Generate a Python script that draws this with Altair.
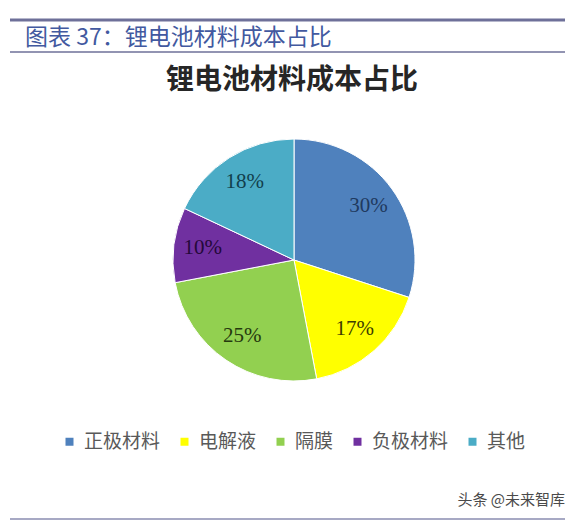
import altair as alt
import pandas as pd

categories = ["正极材料", "电解液", "隔膜", "负极材料", "其他"]
values = [30, 17, 25, 10, 18]
labels = ["30%", "17%", "25%", "10%", "18%"]
colors = ["#4F81BD", "#FFFF00", "#92D050", "#7030A0", "#4BACC6"]
label_colors = ["#1F3A5F", "#3D3D00", "#25380E", "#24083A", "#123F4C"]

df = pd.DataFrame({
    "cat": categories,
    "val": values,
    "lab": labels,
    "order": list(range(len(categories))),
    "lc": label_colors,
})

W, H = 559, 514
CX, CY = 286, 252

base = alt.Chart(df).encode(
    theta=alt.Theta("val:Q", stack=True),
    order=alt.Order("order:Q"),
)

arcs = base.mark_arc(radius=121, stroke="white", strokeWidth=1).encode(
    x=alt.value(CX), y=alt.value(CY),
    color=alt.Color(
        "cat:N",
        scale=alt.Scale(domain=categories, range=colors),
        sort=categories,
        legend=alt.Legend(
            title=None, orient="none", direction="horizontal",
            legendX=52, legendY=424, symbolType="square", symbolSize=64,
            symbolStrokeWidth=0, labelFontSize=19, labelFont="Noto Sans CJK SC",
            labelColor="#595959", columnPadding=14, labelOffset=5, padding=0,
        ),
    ),
)

pie_labels = base.mark_text(radius=92, font="Liberation Serif", fontSize=21).encode(
    x=alt.value(CX), y=alt.value(CY),
    text="lab:N",
    color=alt.Color("lc:N", scale=None),
)

hdr = pd.DataFrame({"t": ["图表 37：锂电池材料成本占比"]})
header = alt.Chart(hdr).mark_text(
    align="left", baseline="middle", fontSize=23, font="Noto Sans CJK SC", color="#4259A0"
).encode(x=alt.value(17), y=alt.value(30), text="t:N")

ttl = pd.DataFrame({"t": ["锂电池材料成本占比"]})
title = alt.Chart(ttl).mark_text(
    align="center", baseline="middle", fontSize=28, fontWeight="bold",
    font="Noto Sans CJK SC", color="#262626"
).encode(x=alt.value(284), y=alt.value(73), text="t:N")

wm = pd.DataFrame({"t": ["头条 @未来智库"]})
watermark = alt.Chart(wm).mark_text(
    align="right", baseline="middle", fontSize=15, font="Noto Sans CJK SC", color="#4A4A4A"
).encode(x=alt.value(557), y=alt.value(492), text="t:N")

line_top = alt.Chart(hdr).mark_rule(color="#6E7099", strokeWidth=3).encode(
    x=alt.value(2), x2=alt.value(557), y=alt.value(12))
line_mid = alt.Chart(hdr).mark_rule(color="#6E7099", strokeWidth=1.5).encode(
    x=alt.value(2), x2=alt.value(557), y=alt.value(44))
line_bot = alt.Chart(hdr).mark_rule(color="#8A8CB0", strokeWidth=1.5).encode(
    x=alt.value(2), x2=alt.value(557), y=alt.value(511))

chart = alt.layer(
    line_top, line_mid, line_bot, header, title, arcs, pie_labels, watermark
).properties(
    width=W, height=H, autosize=alt.AutoSizeParams(type="none"), padding=0
).configure_view(stroke=None)

chart.save("out.html", embed_options={"renderer": "svg", "actions": False})
